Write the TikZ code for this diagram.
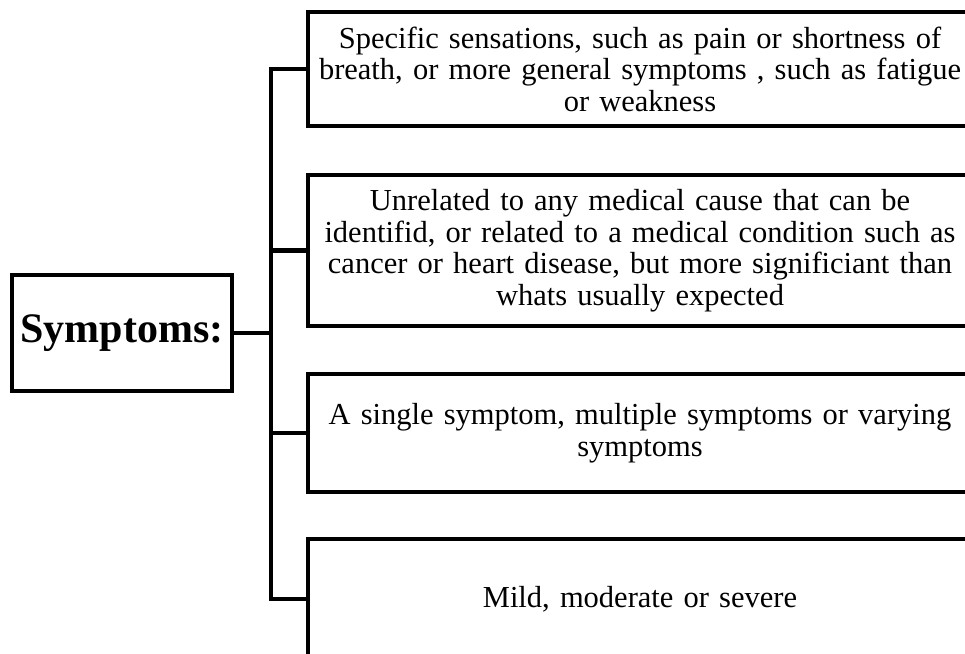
\documentclass[tikz,border=0pt]{standalone}
\usepackage{fontspec}
\setmainfont{Liberation Serif}
\usepackage{tikz}
\usetikzlibrary{positioning}
\newcommand{\leaffont}{\fontsize{30.5}{31.5}\selectfont}
\newcommand{\rootfont}{\fontsize{42}{48}\selectfont\bfseries}

\begin{document}
\begin{tikzpicture}[
  x=1pt,y=-1pt,
  leaf/.style={draw,line width=4.5pt,align=center,inner sep=0pt,outer sep=0pt,
               minimum width=664pt,text width=656pt,font=\leaffont},
  root/.style={draw,line width=4.5pt,inner sep=0pt,outer sep=0pt,
               minimum width=220pt,minimum height=116pt,font=\rootfont},
  link/.style={line width=4.5pt},
  ]
  \useasboundingbox (0,0) rectangle (965,653);
  \clip (0,0) rectangle (965,653);

  \node[root] (symp) at (122,333) {Symptoms:};

  \node[leaf,minimum height=114pt,anchor=north west] (b1) at (308,12)
    {Specific sensations, such as pain or shortness of\\
     breath, or more general symptoms , such as fatigue\\
     or weakness};
  \node[leaf,minimum height=151pt,below=49pt of b1] (b2)
    {Unrelated to any medical cause that can be\\
     identifid, or related to a medical condition such as\\
     cancer or heart disease, but more significiant than\\
     whats usually expected};
  \node[leaf,minimum height=118pt,below=48pt of b2] (b3)
    {A single symptom, multiple symptoms or varying\\
     symptoms};
  \node[leaf,minimum height=120pt,below=47pt of b3] (b4)
    {Mild, moderate or severe};

  \coordinate (spine) at (271,0);
  \draw[link] (b1.west) -- (b1.west -| spine) -- (b4.west -| spine) -- (b4.west);
  \draw[link] (b2.west) -- (b2.west -| spine);
  \draw[link] (b3.west) -- (b3.west -| spine);
  \draw[link] (symp.east) -- (symp.east -| spine);
\end{tikzpicture}
\end{document}
